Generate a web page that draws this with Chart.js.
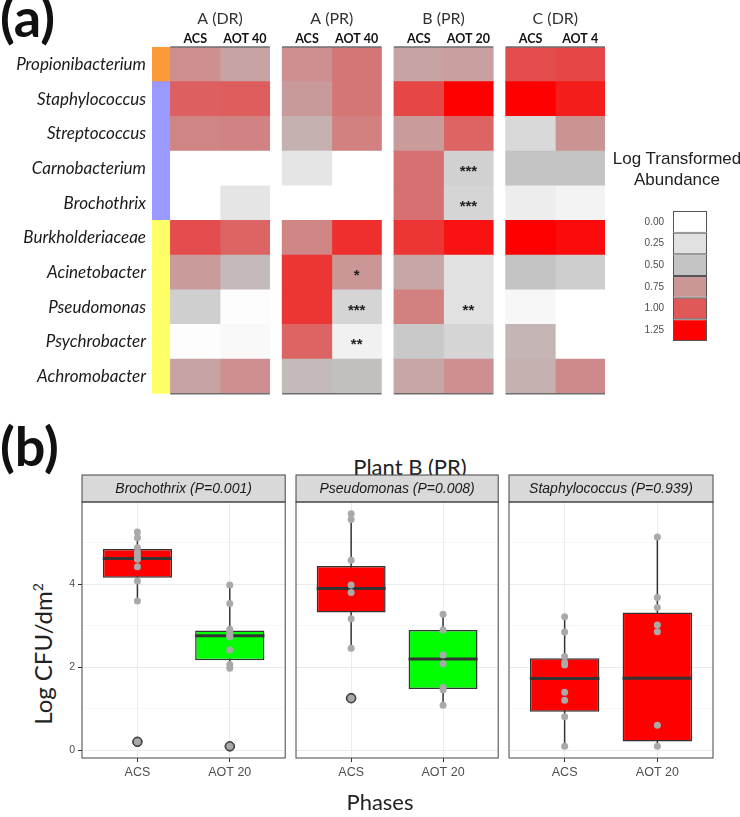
<!DOCTYPE html>
<html>
<head>
<meta charset="utf-8">
<script src="https://cdn.jsdelivr.net/npm/chart.js@4.4.1/dist/chart.umd.min.js"></script>
<style>
  body { margin: 0; background: #fff; }
  #fig { position: relative; width: 740px; height: 817px; overflow: hidden; font-family: Lato, sans-serif; }
  canvas { position: absolute; }
  .lbl { position: absolute; white-space: nowrap; color: #111; }
</style>
</head>
<body>
<div id="fig">
  <div class="lbl" style="left:0;top:-10px;font:bold 54px/54px Lato">(a)</div>
  <canvas id="heat" width="615" height="410" style="left:0;top:0"></canvas>
  <div class="lbl" style="left:612px;top:148px;width:130px;text-align:center;font:17px/21px 'Liberation Sans';color:#222">Log Transformed<br>Abundance</div>
  <canvas id="key" width="100" height="160" style="left:620px;top:196px"></canvas>

  <div class="lbl" style="left:0;top:419px;font:bold 54px/54px Lato">(b)</div>
  <div class="lbl" style="left:310px;top:456px;width:200px;text-align:center;font:22px/22px Lato;color:#222">Plant B (PR)</div>
  <div class="lbl" style="left:40px;top:654px;font:24px/24px Lato;color:#222;transform:translate(-50%,-50%) rotate(-90deg)">Log CFU/dm<sup style="font-size:14px">2</sup></div>
  <canvas id="p0" width="291" height="330" style="left:0;top:470px"></canvas>
  <canvas id="p1" width="218" height="330" style="left:286px;top:470px"></canvas>
  <canvas id="p2" width="218" height="330" style="left:500px;top:470px"></canvas>
  <div class="lbl" style="left:280px;top:791px;width:200px;text-align:center;font:22px/22px Lato;color:#222">Phases</div>
</div>

<script>
// ---------- (a) heatmap data ----------
const taxa = ['Propionibacterium', 'Staphylococcus', 'Streptococcus', 'Carnobacterium', 'Brochothrix',
              'Burkholderiaceae', 'Acinetobacter', 'Pseudomonas', 'Psychrobacter', 'Achromobacter'];
const taxaGroupColors = ['#fb9a37', '#9999ff', '#9999ff', '#9999ff', '#9999ff',
                         '#ffff66', '#ffff66', '#ffff66', '#ffff66', '#ffff66'];
const plantGroups = ['A (DR)', 'A (PR)', 'B (PR)', 'C (DR)'];
const phaseCols = ['ACS', 'AOT 40', 'ACS', 'AOT 40', 'ACS', 'AOT 20', 'ACS', 'AOT 4'];

// log transformed abundance, one array per column (rows follow taxa)
const aDrAcs  = [0.78, 0.97, 0.82, 0.00, 0.00, 1.03, 0.72, 0.40, 0.02, 0.68];
const aDrAot  = [0.68, 0.98, 0.83, 0.00, 0.22, 0.95, 0.55, 0.02, 0.05, 0.78];
const aPrAcs  = [0.78, 0.73, 0.60, 0.22, 0.00, 0.82, 1.10, 1.10, 0.95, 0.55];
const aPrAot  = [0.88, 0.88, 0.84, 0.00, 0.00, 1.12, 0.75, 0.35, 0.12, 0.52];
const bPrAcs  = [0.68, 1.05, 0.72, 0.90, 0.90, 1.10, 0.66, 0.84, 0.45, 0.66];
const bPrAot  = [0.70, 1.25, 0.95, 0.38, 0.35, 1.20, 0.25, 0.25, 0.35, 0.78];
const cDrAcs  = [1.03, 1.25, 0.32, 0.50, 0.15, 1.25, 0.50, 0.07, 0.58, 0.60];
const cDrAot  = [1.05, 1.17, 0.76, 0.50, 0.10, 1.22, 0.42, 0.00, 0.00, 0.80];
const heatColumns = [aDrAcs, aDrAot, aPrAcs, aPrAot, bPrAcs, bPrAot, cDrAcs, cDrAot];

// significance marks: row index, column index, text
const sigMarks = [[3, 5, '***'], [4, 5, '***'], [6, 3, '*'], [7, 3, '***'], [7, 5, '**'], [8, 3, '**']];
const keyLevels = [0, 0.25, 0.5, 0.75, 1.0, 1.25];

// ---------- (b) box plot data ----------
const phases = ['ACS', 'AOT 20'];
const panelTitles = ['Brochothrix (P=0.001)', 'Pseudomonas (P=0.008)', 'Staphylococcus (P=0.939)'];
const yTicks = [0, 1, 2, 3, 4, 5];
// [lower whisker, Q1, median, Q3, upper whisker]
const brochothrixBox = [[3.60, 4.16, 4.62, 4.85, 5.26], [1.98, 2.17, 2.76, 2.89, 3.98]];
const pseudomonasBox = [[2.46, 3.32, 3.90, 4.44, 5.70], [1.09, 1.48, 2.20, 2.90, 3.28]];
const staphylococcusBox = [[0.10, 0.93, 1.73, 2.22, 3.22], [0.10, 0.22, 1.74, 3.32, 5.14]];
const brochothrixPts = [[5.26, 5.12, 4.88, 4.76, 4.68, 4.60, 4.42, 4.08, 3.60, 0.21],
                        [3.98, 3.54, 2.92, 2.86, 2.78, 2.74, 2.42, 2.07, 1.98, 0.10]];
const pseudomonasPts = [[5.70, 5.56, 4.58, 3.98, 3.80, 3.17, 2.46, 1.26],
                        [3.28, 2.90, 2.30, 2.09, 1.52, 1.46, 1.09]];
const staphylococcusPts = [[3.22, 2.85, 2.26, 2.12, 2.06, 1.40, 1.21, 0.81, 0.10],
                           [5.14, 3.68, 3.44, 3.02, 2.86, 0.61, 0.10]];
const brochothrixOut = [[0.21], [0.10]];
const pseudomonasOut = [[1.26], []];
const staphylococcusOut = [[], []];

// ---------- layout helpers ----------
const colStarts = [0, 1, 2.25, 3.25, 4.5, 5.5, 6.75, 7.75];
const groupStarts = [0, 2.25, 4.5, 6.75];
const groupWidth = 2;
const barStart = -0.37;

const colorStops = [[0, [255, 255, 255]], [0.5, [195, 195, 195]], [0.75, [202, 150, 150]],
                    [1.0, [224, 88, 88]], [1.25, [255, 0, 0]]];
function abundanceColor(v) {
    if (v <= colorStops[0][0]) return 'rgb(255,255,255)';
    for (let i = 1; i < colorStops.length; i++) {
        const [v1, c1] = colorStops[i];
        const [v0, c0] = colorStops[i - 1];
        if (v <= v1) {
            const t = (v - v0) / (v1 - v0);
            const c = c0.map((a, k) => Math.round(a + (c1[k] - a) * t));
            return `rgb(${c[0]},${c[1]},${c[2]})`;
        }
    }
    return 'rgb(255,0,0)';
}

Chart.defaults.animation = false;
Chart.defaults.responsive = false;
Chart.defaults.plugins.legend.display = false;
Chart.defaults.plugins.tooltip.enabled = false;

// ---------- heatmap ----------
const heatDecor = {
    id: 'heatDecor',
    afterDatasetsDraw(chart) {
        const { ctx, chartArea: a, scales: { x, y } } = chart;
        ctx.save();
        ctx.strokeStyle = '#6e6e6e';
        ctx.lineWidth = 1.5;
        groupStarts.forEach(g => {
            const x0 = x.getPixelForValue(g);
            const x1 = x.getPixelForValue(g + groupWidth);
            [a.top, a.bottom].forEach(py => {
                ctx.beginPath();
                ctx.moveTo(x0, py);
                ctx.lineTo(x1, py);
                ctx.stroke();
            });
        });
        ctx.fillStyle = '#222';
        ctx.font = 'bold 15px "Liberation Sans"';
        ctx.textAlign = 'center';
        ctx.textBaseline = 'alphabetic';
        sigMarks.forEach(([r, c, txt]) => {
            ctx.fillText(txt, x.getPixelForValue(colStarts[c] + 0.5), y.getPixelForValue(r) + 7.5);
        });
        ctx.restore();
    }
};

const heatDatasets = heatColumns.map((vals, c) => ({
    data: taxa.map(() => [colStarts[c], colStarts[c] + 1]),
    backgroundColor: vals.map(abundanceColor),
    borderWidth: 0,
    grouped: false,
    barPercentage: 1,
    categoryPercentage: 1
}));
heatDatasets.push({
    data: taxa.map(() => [barStart, 0]),
    backgroundColor: taxaGroupColors,
    borderWidth: 0,
    grouped: false,
    barPercentage: 1,
    categoryPercentage: 1
});

new Chart(document.getElementById('heat'), {
    type: 'bar',
    data: { labels: taxa, datasets: heatDatasets },
    options: {
        indexAxis: 'y',
        layout: { padding: { top: 0, right: 10, bottom: 10, left: 0 } },
        scales: {
            x: {
                type: 'linear', position: 'top', min: barStart, max: 8.75,
                afterBuildTicks: s => { s.ticks = colStarts.map(v => ({ value: v + 0.5 })); },
                afterFit: s => { s.height = 17; },
                ticks: {
                    callback: (v, i) => phaseCols[i], autoSkip: false, maxRotation: 0, padding: 1,
                    color: '#111', font: { family: 'Lato', size: 12.5, weight: 'bold' }
                },
                grid: { display: false, drawTicks: false },
                border: { display: false }
            },
            xg: {
                type: 'linear', position: 'top', weight: 1, min: barStart, max: 8.75,
                afterBuildTicks: s => { s.ticks = groupStarts.map(v => ({ value: v + groupWidth / 2 })); },
                afterFit: s => { s.height = 30; },
                ticks: {
                    callback: (v, i) => plantGroups[i], autoSkip: false, maxRotation: 0, padding: 1.4,
                    color: '#333', font: { family: 'Lato', size: 16 }
                },
                grid: { display: false, drawTicks: false },
                border: { display: false }
            },
            y: {
                afterFit: s => { s.width = 152; },
                ticks: { padding: 6, color: '#1a1a1a', font: { family: 'Lato', size: 17, style: 'italic' } },
                grid: { display: false, drawTicks: false },
                border: { display: false }
            }
        }
    },
    plugins: [heatDecor]
});

// ---------- colour key ----------
new Chart(document.getElementById('key'), {
    type: 'bar',
    data: {
        labels: keyLevels.map(v => v.toFixed(2)),
        datasets: [{
            data: keyLevels.map(() => [0, 1]),
            backgroundColor: keyLevels.map(abundanceColor),
            borderColor: '#555',
            borderWidth: 1,
            borderSkipped: false,
            inflateAmount: 0,
            barPercentage: 1,
            categoryPercentage: 1
        }]
    },
    options: {
        indexAxis: 'y',
        layout: { padding: { top: 10, right: 13, bottom: 9, left: 0 } },
        scales: {
            x: { display: false, min: 0, max: 1 },
            y: {
                afterFit: s => { s.width = 53; },
                ticks: { padding: 9, color: '#4d4d4d', font: { family: 'Liberation Sans', size: 10 } },
                grid: { display: false, drawTicks: false },
                border: { display: false }
            }
        }
    }
});

// ---------- box plot panels ----------
const panelBoxes = [brochothrixBox, pseudomonasBox, staphylococcusBox];
const panelPoints = [brochothrixPts, pseudomonasPts, staphylococcusPts];
const panelOutliers = [brochothrixOut, pseudomonasOut, staphylococcusOut];
const panelFills = [['#ff0000', '#00ff00'], ['#ff0000', '#00ff00'], ['#ff0000', '#ff0000']];
const axisWidths = [82, 10, 9];
const boxHalf = 0.375;

const panelFrame = {
    id: 'panelFrame',
    afterDraw(chart, args, opts) {
        const { ctx, chartArea: a } = chart;
        ctx.save();
        ctx.fillStyle = '#d9d9d9';
        ctx.fillRect(a.left, a.top - 27, a.right - a.left, 27);
        ctx.strokeStyle = '#444';
        ctx.lineWidth = 1;
        ctx.strokeRect(a.left, a.top - 27, a.right - a.left, 27);
        ctx.strokeRect(a.left, a.top, a.right - a.left, a.bottom - a.top);
        ctx.fillStyle = '#1a1a1a';
        ctx.font = 'italic 14px "Liberation Sans"';
        ctx.textAlign = 'center';
        ctx.textBaseline = 'middle';
        ctx.fillText(opts.title, (a.left + a.right) / 2, a.top - 13);
        ctx.restore();
    }
};

function boxPanel(id, p) {
    const box = panelBoxes[p];
    const datasets = [];
    phases.forEach((ph, i) => {
        datasets.push({
            type: 'line', order: 4, pointRadius: 0, borderColor: '#333', borderWidth: 1.5,
            data: [{ x: i + 1, y: box[i][0] }, { x: i + 1, y: box[i][4] }]
        });
        datasets.push({
            type: 'line', order: 2, pointRadius: 0, borderColor: '#333', borderWidth: 3,
            data: [{ x: i + 1 - boxHalf, y: box[i][2] }, { x: i + 1 + boxHalf, y: box[i][2] }]
        });
    });
    datasets.push({
        type: 'bar', order: 3,
        data: phases.map((ph, i) => ({ x: i + 1, y: [box[i][1], box[i][3]] })),
        backgroundColor: panelFills[p], borderColor: '#333', borderWidth: 1.5, borderSkipped: false,
        inflateAmount: 0, barPercentage: 1, categoryPercentage: 0.75
    });
    datasets.push({
        type: 'scatter', order: 1,
        data: panelOutliers[p].flatMap((vals, i) => vals.map(v => ({ x: i + 1, y: v }))),
        pointRadius: 4.8, pointBackgroundColor: '#555', pointBorderColor: '#333', pointBorderWidth: 1
    });
    datasets.push({
        type: 'scatter', order: 0,
        data: panelPoints[p].flatMap((vals, i) => vals.map(v => ({ x: i + 1, y: v }))),
        pointRadius: 3.5, pointBackgroundColor: '#a9a9a9', pointBorderWidth: 0
    });

    new Chart(document.getElementById(id), {
        type: 'bar',
        data: { datasets },
        options: {
            layout: { padding: { top: 32, right: 5, bottom: 0, left: 0 } },
            scales: {
                x: {
                    type: 'linear', min: 0.4, max: 2.6, offset: false,
                    afterBuildTicks: s => { s.ticks = phases.map((ph, i) => ({ value: i + 1 })); },
                    afterFit: s => { s.height = 42; },
                    ticks: {
                        callback: (v, i) => phases[i], autoSkip: false, maxRotation: 0, padding: 3,
                        color: '#4d4d4d', font: { family: 'Liberation Sans', size: 12.5 }
                    },
                    grid: { color: '#ebebeb', offset: false, tickColor: '#333', tickLength: 4 },
                    border: { display: false }
                },
                y: {
                    type: 'linear', min: -0.18, max: 5.98,
                    afterBuildTicks: s => { s.ticks = yTicks.map(v => ({ value: v })); },
                    afterFit: s => { s.width = axisWidths[p]; },
                    ticks: {
                        display: p === 0, padding: 3,
                        callback: v => (v % 2 === 0 ? v : ''),
                        color: '#4d4d4d', font: { family: 'Liberation Sans', size: 10.5 }
                    },
                    grid: {
                        color: c => (c.tick && c.tick.value % 2 === 0 ? '#ebebeb' : '#f4f4f4'),
                        lineWidth: c => (c.tick && c.tick.value % 2 === 0 ? 1 : 0.7),
                        drawTicks: p === 0, tickLength: 4,
                        tickColor: c => (c.tick && c.tick.value % 2 === 0 ? '#333' : 'rgba(0,0,0,0)')
                    },
                    border: { display: false }
                }
            },
            plugins: { panelFrame: { title: panelTitles[p] } }
        },
        plugins: [panelFrame]
    });
}

boxPanel('p0', 0);
boxPanel('p1', 1);
boxPanel('p2', 2);
</script>
</body>
</html>
